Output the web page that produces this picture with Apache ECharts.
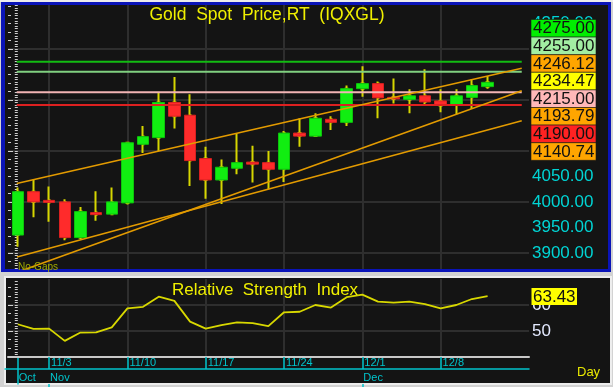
<!DOCTYPE html>
<html><head><meta charset="utf-8">
<script src="https://cdn.jsdelivr.net/npm/echarts@6/dist/echarts.min.js"></script>
<style>
html,body{margin:0;padding:0;background:#d2d2d2;width:613px;height:387px;overflow:hidden}
.f{position:absolute}
#chart{position:absolute;left:0;top:0;width:613px;height:387px}
</style></head><body>
<div class="f" style="left:0;top:0;width:613px;height:2px;background:#ececec"></div>
<div class="f" style="left:1px;top:2px;width:610px;height:270px;background:#0a14b8"></div>
<div class="f" style="left:5px;top:5px;width:603px;height:264px;background:#141414"></div>
<div class="f" style="left:4px;top:276px;width:608px;height:109px;background:#ededed"></div>
<div class="f" style="left:6px;top:278px;width:604px;height:105px;background:#141414"></div>
<div id="chart"></div>
<script>
// ---------------- data ----------------
const dates = ['10/30','10/31','11/3','11/4','11/5','11/6','11/7','11/10','11/11','11/12','11/13','11/14',
  '11/17','11/18','11/19','11/20','11/21','11/24','11/25','11/26','11/27','11/28',
  '12/1','12/2','12/3','12/4','12/5','12/8','12/9','12/10','12/11'];
const opens  = [3935,4020,4003,4000,3930,3979,3976,3998,4113,4126,4195,4170,4085,4043,4066,4078,4077,4064,4135,4129,4162,4156,4222,4232,4205,4201,4208,4198,4190,4205,4226];
const closes = [4020,4000,3999,3930,3981,3975,4000,4116,4128,4195,4168,4081,4043,4068,4077,4074,4064,4135,4129,4164,4156,4222,4232,4204,4202,4208,4196,4189,4208,4228,4234.47];
const lows   = [3912,3970,3961,3925,3927,3963,3974,3995,4096,4100,4144,4031,4006,3996,4054,4038,4025,4039,4108,4128,4141,4149,4206,4164,4193,4174,4192,4176,4172,4182,4222];
const highs  = [4028,4044,4030,4005,3990,4021,4028,4118,4149,4214,4245,4211,4108,4083,4134,4110,4100,4139,4164,4174,4168,4228,4266,4236,4242,4221,4260,4221,4221,4240,4247];
const rsi    = [52.6,50.8,50.9,46.2,49.4,49.5,51.4,58.7,59.3,63.2,61.6,53.6,50.9,52.3,53.3,53.0,51.9,57.2,57.4,60.0,59.0,63.0,64.0,61.3,60.9,61.3,60.3,58.7,60.0,62.3,63.43];
const levelValues = [4275, 4255, 4215, 4190];
const levelSpan = [-0.07, 32.18];
const trendUpper = [[-0.07, 4036], [32.18, 4262]];
const trendMiddle = [[-0.05, 3862], [32.18, 4218]];
const trendLower = [[-0.05, 3892], [32.18, 4159]];
const trendEndValues = [4246.12, 4193.79, 4140.74];
const priceTickLabels = [3900,3950,4000,4050,4100,4150,4200,4250,4300,4350];
const rsiTickLabels = [50, 60];
const monthNames = ['Jan','Feb','Mar','Apr','May','Jun','Jul','Aug','Sep','Oct','Nov','Dec'];
const year = 2025;

// ---------------- helpers ----------------
const FONT = "'Liberation Sans', Arial, sans-serif";
const NARROW = "'Liberation Sans Narrow', 'Arial Narrow', 'Liberation Sans', sans-serif";
const C = {green:'#11ee11', red:'#ff2b2b', wick:'#d6d600', grid:'#2e2e2e', cyan:'#00c4cc', trend:'#e39b00', yellow:'#f0f000', tick:'#cfcfcf'};
const X0 = 17.8, DX = 15.66;                 // pixel of first candle, pixels per day
const pxToIdx = px => (px - X0) / DX;
const K = 0.51, Y4000 = 201.9;               // price scale
const pyToPrice = py => 4000 + (Y4000 - py) / K;
function range(a, b, s) { const r = []; for (let v = a; v <= b + 1e-9; v += s) r.push(+v.toFixed(4)); return r; }
const idx = dates.map((d, i) => i);
const md = d => d.split('/').map(Number);
const mondays = idx.filter(i => { const [m, d] = md(dates[i]); return new Date(year, m - 1, d).getDay() === 1; });
const monthStarts = idx.filter(i => i === 0 || md(dates[i])[0] !== md(dates[i - 1])[0]);
const last = idx.length - 1;

const yMin = pyToPrice(269), yMax = pyToPrice(5);
const levelColors = {4275:'#12bb12', 4255:'#80d080', 4215:'#f2b4b4', 4190:'#dd2020'};
const boxColors = {4275:'#00ee00', 4255:'#a2eea2', 4215:'#ffb8b8', 4190:'#ff2222'};

// right-side value boxes (stacked)
const boxes = [];
levelValues.forEach(v => boxes.push({v, c: boxColors[v]}));
trendEndValues.forEach(v => boxes.push({v, c: '#ffa500'}));
boxes.push({v: closes[last], c: '#ffff00'});
boxes.sort((a, b) => b.v - a.v);
const BX = 531, BY = 19.5, BW = 65, BH = 17.6;
const graphics = [];
boxes.forEach((b, k) => {
  graphics.push({type:'rect', z:100, shape:{x:BX, y:BY + k*BH, width:BW, height:BH}, style:{fill:b.c, stroke:'#1a1a1a', lineWidth:0.6}});
  graphics.push({type:'text', z:101, x:BX + 2, y:BY + k*BH + BH/2 + 0.5,
    style:{text:b.v.toFixed(2), fill:'#111', font:'17px ' + FONT, align:'left', textAlign:'left', verticalAlign:'middle', textVerticalAlign:'middle'}});
});
// RSI value box
graphics.push({type:'rect', z:100, shape:{x:531.5, y:288, width:45.5, height:17}, style:{fill:'#ffff00'}});
graphics.push({type:'text', z:101, x:533, y:297, style:{text:rsi[last].toFixed(2), fill:'#111', font:'17px ' + FONT, align:'left', textAlign:'left', verticalAlign:'middle', textVerticalAlign:'middle'}});
// titles & captions
const txt = (t, x, y, size, color, align, fam) => ({type:'text', z:50, x, y,
  style:{text:t, fill:color, font:size + 'px ' + (fam || FONT), align, textAlign:align, verticalAlign:'middle', textVerticalAlign:'middle'}});
graphics.push(txt('Gold  Spot  Price,RT  (IQXGL)', 267, 15.5, 17.5, C.yellow, 'center'));
graphics.push(txt('Relative  Strength  Index', 265, 290.5, 17, C.yellow, 'center'));
graphics.push(txt('No-Gaps', 18, 267, 10, '#a0aa00', 'left'));
graphics.push(txt('Day', 577, 372, 13, '#e8e800', 'left', NARROW));

const gridLine = {show:true, lineStyle:{color:C.grid, width:2}};
const none = {show:false};

const option = {
  animation:false,
  backgroundColor:'transparent',
  textStyle:{fontFamily:FONT},
  grid:[
    {left:8, top:5, width:521, height:264},
    {left:8, top:279, width:521, height:78},
    {left:5, top:357, width:524, height:12},
    {left:5, top:369, width:524, height:15}
  ],
  xAxis:[
    {gridIndex:0, type:'value', min:pxToIdx(8), max:pxToIdx(529), axisLine:none,
     axisTick:{show:false, customValues:mondays}, axisLabel:none, splitLine:gridLine},
    {gridIndex:1, type:'value', min:pxToIdx(8), max:pxToIdx(529),
     axisLine:{show:true, onZero:false, lineStyle:{color:'#c8c8c8', width:2}},
     axisTick:{show:false, customValues:mondays}, axisLabel:none, splitLine:gridLine},
    {gridIndex:2, type:'value', position:'bottom', min:pxToIdx(5), max:pxToIdx(529),
     axisLine:{show:true, onZero:false, lineStyle:{color:C.cyan, width:1.5}},
     axisTick:{show:true, inside:true, length:12, customValues:mondays, lineStyle:{color:C.cyan, width:1.5}},
     axisLabel:{show:true, inside:true, customValues:mondays, formatter:v => dates[Math.round(v)],
       color:C.cyan, fontFamily:NARROW, fontSize:11, align:'left', margin:1, padding:[0,0,0,2]},
     splitLine:none},
    {gridIndex:3, type:'value', position:'top', min:pxToIdx(5), max:pxToIdx(529),
     axisLine:none,
     axisTick:{show:true, inside:true, length:15, customValues:monthStarts.filter(i => i > 0), lineStyle:{color:C.cyan, width:1.5}},
     axisLabel:{show:true, inside:true, customValues:monthStarts, formatter:v => monthNames[md(dates[Math.round(v)])[0] - 1],
       color:C.cyan, fontFamily:NARROW, fontSize:11, align:'left', margin:3, padding:[0,0,0,1]},
     splitLine:none}
  ],
  yAxis:[
    // 0 price axis (right)
    {gridIndex:0, type:'value', position:'right', min:yMin, max:yMax, axisLine:none,
     axisTick:{show:true, inside:true, length:3, customValues:range(3870, 4385, 5), lineStyle:{color:C.tick}},
     axisLabel:{show:true, customValues:priceTickLabels, formatter:v => v.toFixed(2), color:'#00d4d4', fontSize:17, fontFamily:FONT, margin:3},
     splitLine:none},
    // 1 price gridlines (left)
    {gridIndex:0, type:'value', position:'left', min:yMin, max:yMax, axisLine:none,
     axisTick:{show:true, inside:true, length:5, customValues:range(3900, 4300, 100), lineStyle:{color:C.tick}},
     axisLabel:none, splitLine:gridLine},
    // 2 price minor ticks (left)
    {gridIndex:0, type:'value', position:'left', min:yMin, max:yMax, axisLine:none,
     axisTick:{show:true, inside:true, length:3, customValues:range(3883.3333, 4383.34, 100/6), lineStyle:{color:C.tick}},
     axisLabel:none, splitLine:none},
    // 3 RSI axis (right)
    {gridIndex:1, type:'value', position:'right', min:40, max:70, axisLine:none,
     axisTick:{show:true, inside:true, length:3, customValues:range(41, 69, 1), lineStyle:{color:C.tick}},
     axisLabel:{show:true, customValues:rsiTickLabels, color:'#e4eaff', fontSize:17, fontFamily:FONT, margin:3},
     splitLine:none},
    // 4 RSI gridlines (left)
    {gridIndex:1, type:'value', position:'left', min:40, max:70, axisLine:none,
     axisTick:{show:true, inside:true, length:5, customValues:rsiTickLabels, lineStyle:{color:C.tick}},
     axisLabel:none, splitLine:gridLine},
    // 5 RSI minor ticks (left)
    {gridIndex:1, type:'value', position:'left', min:40, max:70, axisLine:none,
     axisTick:{show:true, inside:true, length:3, customValues:range(43.3333, 66.67, 10/3), lineStyle:{color:C.tick}},
     axisLabel:none, splitLine:none},
    // 6,7 date band right edges
    {gridIndex:2, type:'value', position:'right', min:0, max:1, axisLine:{show:true, lineStyle:{color:C.cyan, width:1.5}}, axisTick:none, axisLabel:none, splitLine:none},
    {gridIndex:3, type:'value', position:'right', min:0, max:1, axisLine:{show:true, lineStyle:{color:C.cyan, width:1.5}}, axisTick:none, axisLabel:none, splitLine:none}
  ],
  series:[
    {type:'candlestick', xAxisIndex:0, yAxisIndex:0, z:3, barWidth:2,
     data: idx.map(i => [i, opens[i], closes[i], lows[i], highs[i]]),
     itemStyle:{color:C.wick, color0:C.wick, borderColor:C.wick, borderColor0:C.wick, borderWidth:2}},
    {type:'candlestick', xAxisIndex:0, yAxisIndex:0, z:4, barWidth:12,
     data: idx.map(i => [i, opens[i], closes[i], Math.min(opens[i], closes[i]), Math.max(opens[i], closes[i])]),
     itemStyle:{color:C.green, color0:C.red, borderColor:'#0cc40c', borderColor0:'#d82020', borderWidth:1}},
    ...levelValues.map(v => ({type:'line', xAxisIndex:0, yAxisIndex:0, z:5, symbol:'none', silent:true,
      data: levelSpan.map(x => [x, v]), lineStyle:{color:levelColors[v], width:2}})),
    ...[trendUpper, trendMiddle, trendLower].map(d => ({type:'line', xAxisIndex:0, yAxisIndex:0, z:6, symbol:'none', silent:true,
      data:d, lineStyle:{color:C.trend, width:1.6}})),
    {type:'scatter', xAxisIndex:0, yAxisIndex:0, z:7, symbolSize:1, itemStyle:{opacity:0},
     data:[[pxToIdx(518), closes[last]]],
     label:{show:true, position:'inside', formatter:'→', color:C.yellow, fontSize:11, fontWeight:'bold'}},
    {type:'line', xAxisIndex:1, yAxisIndex:3, z:5, symbol:'none', data: idx.map(i => [i, rsi[i]]),
     lineStyle:{color:'#d8d800', width:1.8}},
    {type:'scatter', xAxisIndex:1, yAxisIndex:3, z:7, symbolSize:1, itemStyle:{opacity:0},
     data:[[pxToIdx(518), rsi[last]]],
     label:{show:true, position:'inside', formatter:'→', color:C.yellow, fontSize:11, fontWeight:'bold'}}
  ],
  graphic: graphics
};
const chart = echarts.init(document.getElementById('chart'), null, {renderer:'canvas'});
chart.setOption(option);
</script>
</body></html>
